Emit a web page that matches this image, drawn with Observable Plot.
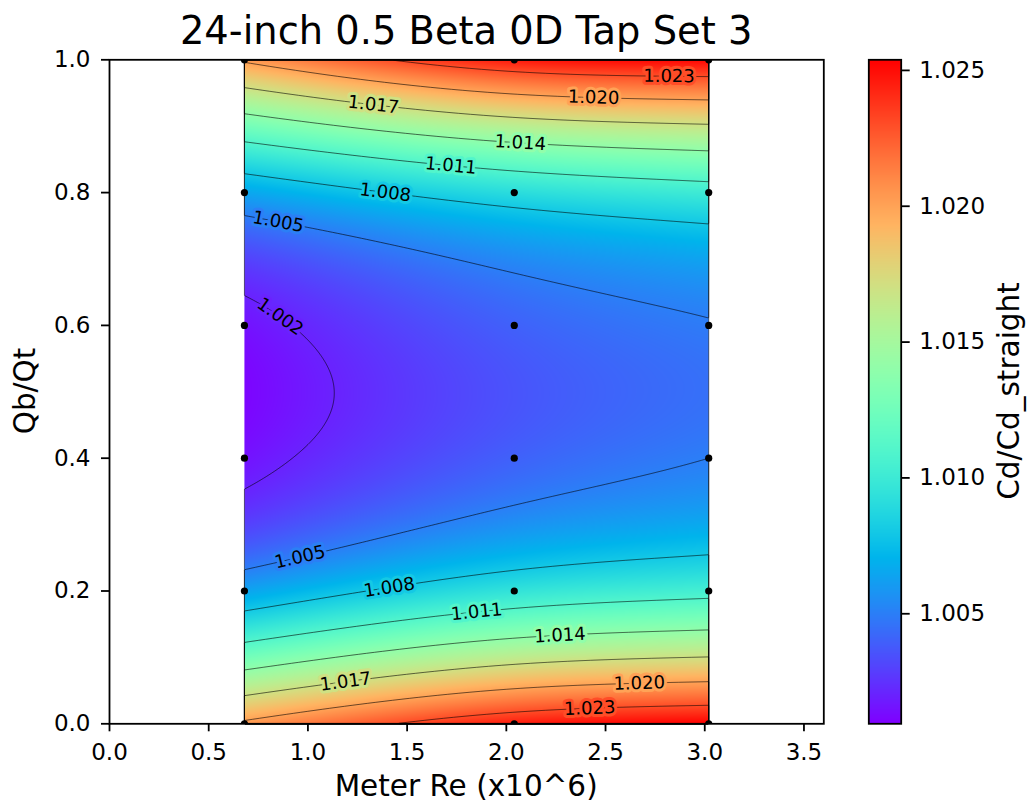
<!DOCTYPE html>
<html><head><meta charset="utf-8">
<script src="https://cdn.jsdelivr.net/npm/d3@7"></script>
<script src="https://cdn.jsdelivr.net/npm/@observablehq/plot@0.6"></script>
<style>
body{margin:0;background:#fff;}
#root{position:relative;width:1029px;height:804px;font-family:"DejaVu Sans",sans-serif;color:#000;overflow:hidden;}
.abs{position:absolute;white-space:nowrap;line-height:1;}
</style></head>
<body><div id="root"></div>
<script>
// ---------------- data ----------------
const reValues = [0.68, 2.04, 3.02];                 // Meter Re (x10^6)
const qbqtValues = [0.0, 0.2, 0.4, 0.6, 0.8, 1.0];  // Qb/Qt
// Cd/Cd_straight measured at each Qb/Qt, one list per Re column
const cdAtRe068 = [1.0204, 1.0064, 1.0015, 1.0015, 1.0065, 1.0203];
const cdAtRe204 = [1.0245, 1.0095, 1.0040, 1.0040, 1.0091, 1.0246];
const cdAtRe302 = [1.0254, 1.0104, 1.0050, 1.0049, 1.0101, 1.0252];
const contourLevels = [1.002, 1.005, 1.008, 1.011, 1.014, 1.017, 1.020, 1.023];
const xTicks = [0, 0.5, 1.0, 1.5, 2.0, 2.5, 3.0, 3.5];
const yTicks = [0.0, 0.2, 0.4, 0.6, 0.8, 1.0];
const colorbarTicks = [1.005, 1.010, 1.015, 1.020, 1.025];
const colorRange = [1.00095, 1.02539];
const xDomain = [0, 3.6];
const yDomain = [0, 1];
// contour label annotations: level, Re at which the label sits, branch
const labelLevels = [1.023, 1.020, 1.017, 1.014, 1.011, 1.008, 1.005, 1.002,
                     1.005, 1.008, 1.011, 1.014, 1.017, 1.020, 1.023];
const labelRe =     [2.82, 2.44, 1.33, 2.07, 1.72, 1.39, 0.85, 0.86,
                     0.96, 1.41, 1.85, 2.27, 1.19, 2.67, 2.42];
const labelBranch = ["upper","upper","upper","upper","upper","upper","upper","upper",
                     "lower","lower","lower","lower","lower","lower","lower"];

// ---------------- helpers ----------------
function naturalSpline(xs, ys) {
  const n = xs.length, h = [];
  for (let i = 0; i < n - 1; i++) h[i] = xs[i + 1] - xs[i];
  const M = new Array(n).fill(0);
  if (n > 2) {
    const m = n - 2, diag = [], up = [], lo = [], rhs = [];
    for (let i = 1; i < n - 1; i++) {
      diag.push(2 * (h[i - 1] + h[i])); lo.push(h[i - 1]); up.push(h[i]);
      rhs.push(6 * ((ys[i + 1] - ys[i]) / h[i] - (ys[i] - ys[i - 1]) / h[i - 1]));
    }
    for (let i = 1; i < m; i++) { const w = lo[i] / diag[i - 1]; diag[i] -= w * up[i - 1]; rhs[i] -= w * rhs[i - 1]; }
    const s = new Array(m); s[m - 1] = rhs[m - 1] / diag[m - 1];
    for (let i = m - 2; i >= 0; i--) s[i] = (rhs[i] - up[i] * s[i + 1]) / diag[i];
    for (let i = 0; i < m; i++) M[i + 1] = s[i];
  }
  return x => {
    let i = 0; while (i < n - 2 && x > xs[i + 1]) i++;
    const hi = h[i], t0 = xs[i + 1] - x, t1 = x - xs[i];
    return M[i] * t0 ** 3 / (6 * hi) + M[i + 1] * t1 ** 3 / (6 * hi)
      + (ys[i] / hi - M[i] * hi / 6) * t0 + (ys[i + 1] / hi - M[i + 1] * hi / 6) * t1;
  };
}
const columnSplines = [cdAtRe068, cdAtRe204, cdAtRe302].map(v => naturalSpline(qbqtValues, v));
const field = (x, y) => naturalSpline(reValues, columnSplines.map(s => s(y)))(x);

const mplRainbow = t => {
  t = Math.max(0, Math.min(1, t));
  const r = Math.min(1, Math.abs(2 * t - 0.5)), g = Math.sin(Math.PI * t), b = Math.cos(Math.PI * t / 2);
  return `rgb(${Math.round(255 * r)},${Math.round(255 * Math.max(0, g))},${Math.round(255 * Math.max(0, b))})`;
};
const colorScale = {type: "linear", domain: colorRange, interpolate: () => mplRainbow, clamp: true};

// ---------------- layout ----------------
const W1 = 860, H = 804;
const pLeft = 109, pRight = 823.3, pTop = 59.3, pBottom = 723.3;
const sx = (pRight - pLeft) / (xDomain[1] - xDomain[0]);
const sy = (pBottom - pTop) / (yDomain[1] - yDomain[0]);
const tickFont = "23px";

const points = reValues.flatMap(re => qbqtValues.map(q => ({re, q})));

function solveY(x, level, branch) {
  let lo = branch === "upper" ? 0.5 : 0, hi = branch === "upper" ? 1 : 0.5;
  for (let k = 0; k < 60; k++) {
    const mid = (lo + hi) / 2, above = field(x, mid) > level;
    if (branch === "upper") { if (above) hi = mid; else lo = mid; }
    else { if (above) lo = mid; else hi = mid; }
  }
  return (lo + hi) / 2;
}
const labels = labelLevels.map((level, i) => {
  const x = labelRe[i], y = solveY(x, level, labelBranch[i]), e = 1e-4;
  const fx = (field(x + e, y) - field(x - e, y)) / (2 * e);
  const fy = (field(x, y + e) - field(x, y - e)) / (2 * e);
  const gX = fx / sx, gY = -fy / sy;
  let ang = Math.atan2(-gX, gY) * 180 / Math.PI;
  if (ang > 90) ang -= 180; if (ang < -90) ang += 180;
  return {level, x, y, ang, text: level.toFixed(3)};
});

const fx1 = d3.min(reValues), fx2 = d3.max(reValues);
const fy1 = d3.min(qbqtValues), fy2 = d3.max(qbqtValues);

const mainPlot = Plot.plot({
  width: W1, height: H,
  marginLeft: pLeft, marginRight: W1 - pRight, marginTop: pTop, marginBottom: H - pBottom,
  style: {fontFamily: "DejaVu Sans", fontSize: tickFont, color: "#000", background: "transparent", overflow: "visible"},
  x: {domain: xDomain},
  y: {domain: yDomain},
  color: colorScale,
  marks: [
    Plot.raster({fill: field, x1: fx1, x2: fx2, y1: fy1, y2: fy2, pixelSize: 1, imageRendering: "auto"}),
    Plot.contour({value: field, x1: fx1, x2: fx2, y1: fy1, y2: fy2, thresholds: contourLevels, stroke: "#000", strokeOpacity: 0.65, strokeWidth: 0.9, pixelSize: 1}),
    Plot.text(labels, {x: "x", y: "y", text: "text", rotate: "ang", fill: "#000", stroke: "level", strokeWidth: 6, paintOrder: "stroke", fontSize: 18, fontFamily: "DejaVu Sans"}),
    Plot.dot(points, {x: "re", y: "q", r: 3.6, fill: "#000", stroke: null, clip: true}),
    Plot.frame({stroke: "#000", strokeWidth: 1.8}),
    Plot.axisX(xTicks, {tickFormat: ".1f", tickSize: 8, tickPadding: 12, strokeWidth: 1.8, label: null}),
    Plot.axisY(yTicks, {tickFormat: ".1f", tickSize: 8, tickPadding: 11, strokeWidth: 1.8, label: null})
  ]
});

const cbLeft = 840, W2 = 1029 - cbLeft;
const colorbarPlot = Plot.plot({
  width: W2, height: H,
  marginLeft: 868.3 - cbLeft, marginRight: W2 - (900.7 - cbLeft), marginTop: pTop, marginBottom: H - pBottom,
  style: {fontFamily: "DejaVu Sans", fontSize: tickFont, color: "#000", background: "transparent", overflow: "visible"},
  x: {domain: [0, 1], axis: null},
  y: {domain: colorRange},
  color: colorScale,
  marks: [
    Plot.raster({fill: (x, y) => y, x1: 0, x2: 1, y1: colorRange[0], y2: colorRange[1], pixelSize: 1}),
    Plot.frame({stroke: "#000", strokeWidth: 1.8}),
    Plot.axisY(colorbarTicks, {anchor: "right", tickFormat: ".3f", tickSize: 8, tickPadding: 10, strokeWidth: 1.8, label: null})
  ]
});

const root = document.getElementById("root");
mainPlot.style.position = "absolute"; mainPlot.style.left = "0px"; mainPlot.style.top = "0px";
colorbarPlot.style.position = "absolute"; colorbarPlot.style.left = cbLeft + "px"; colorbarPlot.style.top = "0px";
root.appendChild(mainPlot);
root.appendChild(colorbarPlot);

function addText(txt, size, cx, cy, rot) {
  const d = document.createElement("div");
  d.className = "abs";
  d.textContent = txt;
  d.style.fontSize = size + "px";
  d.style.left = cx + "px";
  d.style.top = cy + "px";
  d.style.transform = `translate(-50%,-50%)` + (rot ? ` rotate(${rot}deg)` : "");
  root.appendChild(d);
}
const cxPlot = (pLeft + pRight) / 2, cyPlot = (pTop + pBottom) / 2;
const titleSize = 38.4, labelSize = 29.5;
addText("24-inch 0.5 Beta 0D Tap Set 3", titleSize, cxPlot, 44.3 - 0.346 * titleSize);
addText("Meter Re (x10^6)", labelSize, cxPlot, 797.3 - 0.346 * labelSize);
addText("Qb/Qt", labelSize, 36.5 - 0.346 * labelSize, cyPlot, -90);
addText("Cd/Cd_straight", labelSize, 1020.5 - 0.346 * labelSize, cyPlot, -90);
</script>
</body></html>
